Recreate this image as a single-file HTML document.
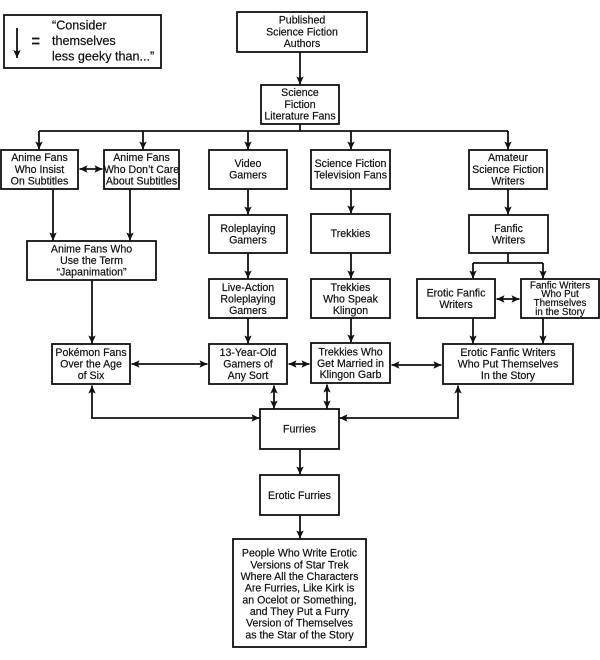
<!DOCTYPE html>
<html>
<head>
<meta charset="utf-8">
<style>
  html,body{margin:0;padding:0;background:#fff;}
  svg{display:block;}
  text{font-family:"Liberation Sans",Arial,sans-serif;fill:#111;stroke:#111;stroke-width:0.2;}
  .t{font-size:10.6px;text-anchor:middle;}
  .s{font-size:9.8px;text-anchor:middle;}
  .l{font-size:12.6px;}
</style>
</head>
<body>
<svg width="600" height="660" viewBox="0 0 600 660" xmlns="http://www.w3.org/2000/svg">
  <defs>
    <marker id="a" markerUnits="userSpaceOnUse" markerWidth="8" markerHeight="8" refX="8" refY="4" orient="auto-start-reverse" viewBox="0 0 8 8">
      <path d="M0,0.3 L8,4 L0,7.7 L1.6,4 z" fill="#111"/>
    </marker>
  </defs>
  <rect x="0" y="0" width="600" height="660" fill="#fff"/>

  <!-- connectors -->
  <g stroke="#111" stroke-width="1.8" fill="none">
    <path d="M300,52V84.5" marker-end="url(#a)"/>
    <path d="M300,124V131"/>
    <path d="M39,131H508"/>
    <path d="M39,131V149.5" marker-end="url(#a)"/>
    <path d="M143,131V149.5" marker-end="url(#a)"/>
    <path d="M248,131V149.5" marker-end="url(#a)"/>
    <path d="M351,131V149.5" marker-end="url(#a)"/>
    <path d="M508,131V149.5" marker-end="url(#a)"/>

    <path d="M79.5,169H102.5" marker-start="url(#a)" marker-end="url(#a)"/>

    <path d="M53,189V240.5" marker-end="url(#a)"/>
    <path d="M130,189V240.5" marker-end="url(#a)"/>
    <path d="M92,280V343.5" marker-end="url(#a)"/>

    <path d="M248,189V214.5" marker-end="url(#a)"/>
    <path d="M248,253V278.5" marker-end="url(#a)"/>
    <path d="M248,318V343.5" marker-end="url(#a)"/>

    <path d="M351,189V213.5" marker-end="url(#a)"/>
    <path d="M351,253V278.5" marker-end="url(#a)"/>
    <path d="M351,318V342.5" marker-end="url(#a)"/>

    <path d="M508,189V214.5" marker-end="url(#a)"/>
    <path d="M508,253V263"/>
    <path d="M473,263H543"/>
    <path d="M473,263V278.5" marker-end="url(#a)"/>
    <path d="M543,263V278.5" marker-end="url(#a)"/>
    <path d="M496.5,299H519.5" marker-start="url(#a)" marker-end="url(#a)"/>
    <path d="M473,318V343.5" marker-end="url(#a)"/>
    <path d="M543,318V343.5" marker-end="url(#a)"/>

    <path d="M131.5,364H207.5" marker-start="url(#a)" marker-end="url(#a)"/>
    <path d="M288.5,364H309.5" marker-start="url(#a)" marker-end="url(#a)"/>
    <path d="M391.5,365H441.5" marker-start="url(#a)" marker-end="url(#a)"/>

    <path d="M92,385.5V418H259.5" marker-start="url(#a)" marker-end="url(#a)"/>
    <path d="M274,385.5V408.5" marker-start="url(#a)" marker-end="url(#a)"/>
    <path d="M327,384.5V408.5" marker-start="url(#a)" marker-end="url(#a)"/>
    <path d="M458,385.5V418H339.5" marker-start="url(#a)" marker-end="url(#a)"/>

    <path d="M300,449V474.5" marker-end="url(#a)"/>
    <path d="M300,515V538.5" marker-end="url(#a)"/>
  </g>

  <!-- boxes -->
  <g stroke="#111" stroke-width="1.8" fill="#fff">
    <rect x="4" y="15" width="157" height="53"/>
    <rect x="237" y="12" width="130" height="40"/>
    <rect x="261" y="85" width="78" height="39"/>
    <rect x="1" y="150" width="77" height="39"/>
    <rect x="104" y="150" width="75" height="39"/>
    <rect x="209" y="150" width="78" height="39"/>
    <rect x="311" y="150" width="79" height="39"/>
    <rect x="469" y="150" width="78" height="39"/>
    <rect x="27" y="241" width="129" height="39"/>
    <rect x="209" y="215" width="78" height="38"/>
    <rect x="311" y="214" width="79" height="39"/>
    <rect x="469" y="215" width="79" height="38"/>
    <rect x="209" y="279" width="78" height="39"/>
    <rect x="311" y="279" width="79" height="39"/>
    <rect x="417" y="279" width="78" height="39"/>
    <rect x="521" y="279" width="78" height="39"/>
    <rect x="52" y="344" width="78" height="40"/>
    <rect x="209" y="344" width="78" height="40"/>
    <rect x="311" y="343" width="79" height="40"/>
    <rect x="443" y="344" width="130" height="40"/>
    <rect x="260" y="409" width="79" height="40"/>
    <rect x="260" y="475" width="79" height="40"/>
    <rect x="233" y="539" width="133" height="108"/>
  </g>

  <!-- legend arrow and equals (drawn above legend box) -->
  <g stroke="#111" stroke-width="1.8" fill="none">
    <path d="M17,28V58" marker-end="url(#a)"/>
    <path d="M32,38.5H39.5M32,43.5H39.5"/>
  </g>

  <!-- legend text -->
  <text class="l" x="52" y="29.3">“Consider</text>
  <text class="l" x="52" y="45">themselves</text>
  <text class="l" x="52" y="60.3">less geeky than...”</text>

  <!-- labels -->
  <text class="t" x="302" y="23.7">Published</text>
  <text class="t" x="302" y="35.4">Science Fiction</text>
  <text class="t" x="302" y="47.1">Authors</text>

  <text class="t" x="300" y="96.2">Science</text>
  <text class="t" x="300" y="107.9">Fiction</text>
  <text class="t" x="300" y="119.6">Literature Fans</text>

  <text class="t" x="39.5" y="161.2">Anime Fans</text>
  <text class="t" x="39.5" y="172.9">Who  Insist</text>
  <text class="t" x="39.5" y="184.6">On Subtitles</text>

  <text class="t" x="141.5" y="161.2">Anime Fans</text>
  <text class="t" x="141.5" y="172.9">Who Don’t Care</text>
  <text class="t" x="141.5" y="184.6">About Subtitles</text>

  <text class="t" x="248" y="167">Video</text>
  <text class="t" x="248" y="178.5">Gamers</text>

  <text class="t" x="350.5" y="167">Science Fiction</text>
  <text class="t" x="350.5" y="178.5">Television Fans</text>

  <text class="t" x="508" y="161.2">Amateur</text>
  <text class="t" x="508" y="172.9">Science Fiction</text>
  <text class="t" x="508" y="184.6">Writers</text>

  <text class="t" x="91.5" y="252.5">Anime Fans Who</text>
  <text class="t" x="91.5" y="264">Use the Term</text>
  <text class="t" x="91.5" y="275.5">“Japanimation”</text>

  <text class="t" x="248" y="232">Roleplaying</text>
  <text class="t" x="248" y="243.3">Gamers</text>

  <text class="t" x="350.5" y="236.8">Trekkies</text>

  <text class="t" x="508.5" y="232">Fanfic</text>
  <text class="t" x="508.5" y="243.3">Writers</text>

  <text class="t" x="248" y="290.8">Live-Action</text>
  <text class="t" x="248" y="302.4">Roleplaying</text>
  <text class="t" x="248" y="314">Gamers</text>

  <text class="t" x="350.5" y="290.8">Trekkies</text>
  <text class="t" x="350.5" y="302.4">Who Speak</text>
  <text class="t" x="350.5" y="314">Klingon</text>

  <text class="t" x="456" y="296.5">Erotic Fanfic</text>
  <text class="t" x="456" y="307.8">Writers</text>

  <text class="s" x="560" y="288.3">Fanfic Writers</text>
  <text class="s" x="560" y="297.2">Who Put</text>
  <text class="s" x="560" y="306.1">Themselves</text>
  <text class="s" x="560" y="315">in the Story</text>

  <text class="t" x="91" y="356">Pokémon Fans</text>
  <text class="t" x="91" y="367.5">Over the Age</text>
  <text class="t" x="91" y="379">of Six</text>

  <text class="t" x="248" y="356">13-Year-Old</text>
  <text class="t" x="248" y="367.5">Gamers of</text>
  <text class="t" x="248" y="379">Any Sort</text>

  <text class="t" x="350.5" y="355.5">Trekkies Who</text>
  <text class="t" x="350.5" y="366.8">Get Married in</text>
  <text class="t" x="350.5" y="378">Klingon Garb</text>

  <text class="t" x="508" y="356">Erotic Fanfic Writers</text>
  <text class="t" x="508" y="367.6">Who Put Themselves</text>
  <text class="t" x="508" y="379">In the Story</text>

  <text class="t" x="299.5" y="432.6">Furries</text>
  <text class="t" x="299.5" y="498.8">Erotic Furries</text>

  <text class="t" x="299.5" y="556.7">People Who Write Erotic</text>
  <text class="t" x="299.5" y="568.4">Versions of Star Trek</text>
  <text class="t" x="299.5" y="580">Where All the Characters</text>
  <text class="t" x="299.5" y="591.7">Are Furries, Like Kirk is</text>
  <text class="t" x="299.5" y="603.3">an Ocelot or Something,</text>
  <text class="t" x="299.5" y="615">and They Put a Furry</text>
  <text class="t" x="299.5" y="626.7">Version of Themselves</text>
  <text class="t" x="299.5" y="638.3">as the Star of the Story</text>
</svg>
</body>
</html>
